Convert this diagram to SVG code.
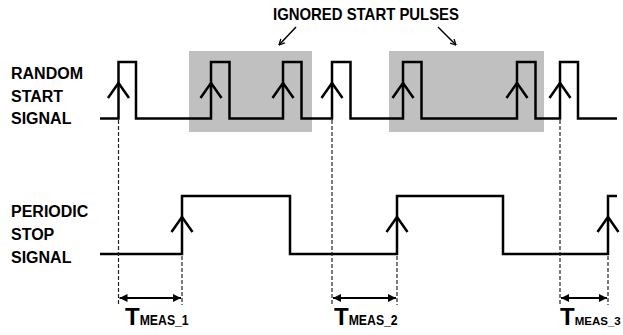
<svg xmlns="http://www.w3.org/2000/svg" width="623" height="335" viewBox="0 0 623 335">
<defs>
<style>
.lbl{font-family:"Liberation Sans",Arial,sans-serif;font-weight:bold;fill:#000}
.sig{fill:none;stroke:#000;stroke-width:2.5;stroke-linejoin:miter}
.chev{fill:none;stroke:#000;stroke-width:2.5}
.dash{fill:none;stroke:#222;stroke-width:1.2;stroke-dasharray:4,2}
.shade{fill:#c0c0c0}
.dim{fill:none;stroke:#000;stroke-width:2}
.ptr{fill:none;stroke:#000;stroke-width:1.5}
</style>
<marker id="ah" viewBox="0 0 10 10" refX="10" refY="5" markerWidth="8" markerHeight="10" markerUnits="userSpaceOnUse" orient="auto-start-reverse">
<path d="M0,0 L10,5 L0,10 z" fill="#000"/>
</marker>
<marker id="oa" viewBox="0 0 10 10" refX="9" refY="5" markerWidth="7" markerHeight="7" markerUnits="userSpaceOnUse" orient="auto">
<path d="M1,1 L9,5 L1,9" fill="none" stroke="#000" stroke-width="1.8"/>
</marker>
</defs>
<rect width="623" height="335" fill="#fff"/>

<g id="ignored-boxes">
<rect class="shade" x="189" y="51" width="123" height="81"/>
<rect class="shade" x="389" y="51" width="155" height="81"/>
</g>

<g id="ignored-label">
<text class="lbl" x="273" y="20" font-size="17" textLength="186" lengthAdjust="spacingAndGlyphs">IGNORED START PULSES</text>
</g>

<g id="random-label">
<text class="lbl" x="11" y="79" font-size="16">RANDOM</text>
<text class="lbl" x="11" y="101.5" font-size="16">START</text>
<text class="lbl" x="11" y="124" font-size="16">SIGNAL</text>
</g>

<g id="periodic-label">
<text class="lbl" x="11" y="217" font-size="16">PERIODIC</text>
<text class="lbl" x="11" y="240" font-size="16">STOP</text>
<text class="lbl" x="11" y="263" font-size="16">SIGNAL</text>
</g>

<g id="random-signal">
<path class="sig" d="M100,118.5 H118.5 V62 H136 V118.5 H211 V62 H229.5 V118.5 H283 V62 H301.5 V118.5 H332 V62 H350.5 V118.5 H403 V62 H421.5 V118.5 H517 V62 H535.5 V118.5 H560 V62 H578 V118.5 H617"/>
</g>

<g id="stop-signal">
<path class="sig" d="M100,254 H182 V196 H290 V254 H397 V196 H503 V254 H608 V196 H617"/>
</g>

<g id="edge-arrows">
<path class="chev" d="M108,98 L118.5,83 L129,98"/>
<path class="chev" d="M200.5,98 L211,83 L221.5,98"/>
<path class="chev" d="M272.5,98 L283,83 L293.5,98"/>
<path class="chev" d="M321.5,98 L332,83 L342.5,98"/>
<path class="chev" d="M392.5,98 L403,83 L413.5,98"/>
<path class="chev" d="M506.5,98 L517,83 L527.5,98"/>
<path class="chev" d="M549.5,98 L560,83 L570.5,98"/>
<path class="chev" d="M171.5,232 L182,217 L192.5,232"/>
<path class="chev" d="M386.5,232 L397,217 L407.5,232"/>
<path class="chev" d="M597.5,232 L608,217 L618.5,232"/>
</g>

<g id="connectors">
<path class="dash" d="M118.5,120 V305 M182,256 V305 M332,120 V305 M397,256 V305 M560,120 V305 M608,256 V305"/>
<path class="dim" d="M119.5,298 H181" marker-start="url(#ah)" marker-end="url(#ah)"/>
<path class="dim" d="M333,298 H396" marker-start="url(#ah)" marker-end="url(#ah)"/>
<path class="dim" d="M561,298 H607" marker-start="url(#ah)" marker-end="url(#ah)"/>
<path class="ptr" d="M296,27 L279,45" marker-end="url(#oa)"/>
<path class="ptr" d="M438,27 L456,45" marker-end="url(#oa)"/>
</g>

<g id="tmeas-1">
<text class="lbl" x="125" y="325" font-size="24">T<tspan font-size="14" textLength="49" lengthAdjust="spacingAndGlyphs">MEAS_1</tspan></text>
</g>
<g id="tmeas-2">
<text class="lbl" x="334" y="325" font-size="24">T<tspan font-size="14" textLength="49" lengthAdjust="spacingAndGlyphs">MEAS_2</tspan></text>
</g>
<g id="tmeas-3">
<text class="lbl" x="560" y="325" font-size="24">T<tspan font-size="11.5">MEAS_3</tspan></text>
</g>
</svg>
